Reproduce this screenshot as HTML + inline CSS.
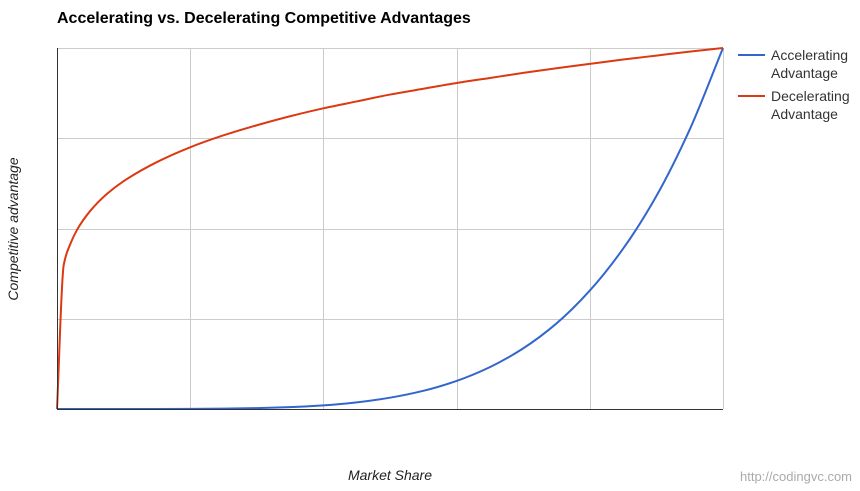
<!DOCTYPE html>
<html><head><meta charset="utf-8">
<style>
body{margin:0;background:#fff;}
svg{display:block;font-family:"Liberation Sans",Arial,sans-serif;}
</style></head>
<body>
<svg id="chart" width="860" height="491">
<text x="57" y="23" font-size="16" font-weight="bold" fill="#000">Accelerating vs. Decelerating Competitive Advantages</text>
<g id="grid"></g>
<g id="series"></g>
<line x1="57.5" y1="48" x2="57.5" y2="409" stroke="#333"/>
<line x1="57" y1="409.5" x2="723" y2="409.5" stroke="#333"/>
<text transform="translate(18,229) rotate(-90)" text-anchor="middle" font-size="14" font-style="italic" fill="#222">Competitive advantage</text>
<text x="390" y="480" text-anchor="middle" font-size="14" font-style="italic" fill="#222">Market Share</text>
<text x="852" y="481" text-anchor="end" font-size="13" fill="#aaa">http://codingvc.com</text>
<g>
<line x1="738" y1="55" x2="765" y2="55" stroke="#3366cc" stroke-width="2"/>
<text x="771" y="60" font-size="14" fill="#333">Accelerating</text>
<text x="771" y="78" font-size="14" fill="#333">Advantage</text>
</g>
<g>
<line x1="738" y1="96" x2="765" y2="96" stroke="#dc3912" stroke-width="2"/>
<text x="771" y="101" font-size="14" fill="#333">Decelerating</text>
<text x="771" y="119" font-size="14" fill="#333">Advantage</text>
</g>
</svg>
<script>
const xValues = [0,0.01,0.02,0.03,0.05,0.075,0.1,0.15,0.2,0.25,0.3,0.35,0.4,0.45,0.5,0.55,0.6,0.65,0.7,0.75,0.8,0.85,0.9,0.95,1];
const accelerating = [0,0,0,0,0,0,0.00001,0.00008,0.0003,0.001,0.0025,0.0053,0.0102,0.0185,0.0313,0.0503,0.0778,0.116,0.168,0.237,0.328,0.444,0.590,0.774,1];
const decelerating = [0,0.398,0.457,0.496,0.549,0.596,0.631,0.684,0.725,0.758,0.786,0.811,0.833,0.852,0.871,0.887,0.903,0.917,0.931,0.944,0.956,0.968,0.979,0.990,1];
const xGridTicks = [0.2,0.4,0.6,0.8,1];
const yGridTicks = [0.25,0.5,0.75,1];

const X0=57, X1=723, Y0=409, Y1=48;
const sx = v => X0 + v*(X1-X0);
const sy = v => Y0 - v*(Y0-Y1);
const NS='http://www.w3.org/2000/svg';
const grid=document.getElementById('grid');
xGridTicks.forEach(t=>{
  const l=document.createElementNS(NS,'line');
  l.setAttribute('x1',Math.round(sx(t))+0.5);l.setAttribute('x2',Math.round(sx(t))+0.5);
  l.setAttribute('y1',Y1);l.setAttribute('y2',Y0);
  l.setAttribute('stroke','#ccc');
  
  
  grid.appendChild(l);
});
yGridTicks.forEach(t=>{
  const l=document.createElementNS(NS,'line');
  l.setAttribute('y1',Math.round(sy(t))+0.5);l.setAttribute('y2',Math.round(sy(t))+0.5);
  l.setAttribute('x1',X0);l.setAttribute('x2',X1);
  l.setAttribute('stroke','#ccc');
  
  
  grid.appendChild(l);
});
function monotonePath(xs, ys){
  const n=xs.length, d=[], m=[];
  for(let i=0;i<n-1;i++) d.push((ys[i+1]-ys[i])/(xs[i+1]-xs[i]));
  m[0]=d[0]; m[n-1]=d[n-2];
  for(let i=1;i<n-1;i++){
    if(d[i-1]*d[i]<=0) m[i]=0;
    else { const h0=xs[i]-xs[i-1], h1=xs[i+1]-xs[i];
      const w1=2*h1+h0, w2=h1+2*h0;
      m[i]=(w1+w2)/(w1/d[i-1]+w2/d[i]); }
  }
  let s='M'+xs[0].toFixed(2)+','+ys[0].toFixed(2);
  for(let i=0;i<n-1;i++){
    const h=(xs[i+1]-xs[i])/3;
    s+=' C'+(xs[i]+h).toFixed(2)+','+(ys[i]+m[i]*h).toFixed(2)+' '+(xs[i+1]-h).toFixed(2)+','+(ys[i+1]-m[i+1]*h).toFixed(2)+' '+xs[i+1].toFixed(2)+','+ys[i+1].toFixed(2);
  }
  return s;
}
const series=document.getElementById('series');
function draw(vals,color,name){
  const p=document.createElementNS(NS,'path');
  p.setAttribute('d',monotonePath(xValues.map(sx), vals.map(sy)));
  p.setAttribute('fill','none');p.setAttribute('stroke',color);p.setAttribute('stroke-width','2');
  p.setAttribute('stroke-linejoin','round');
  
  
  series.appendChild(p);
}
draw(accelerating,'#3366cc','accelerating-line');
draw(decelerating,'#dc3912','decelerating-line');
</script>
</body></html>
